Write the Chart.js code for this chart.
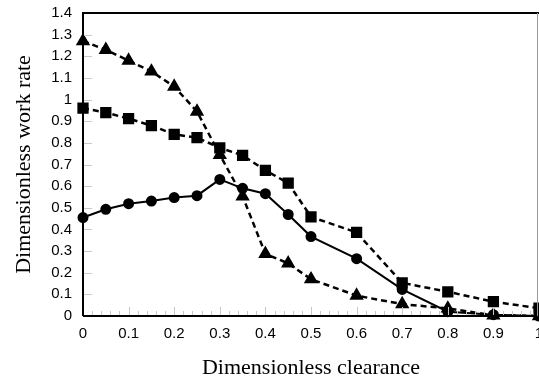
<!DOCTYPE html>
<html>
<head>
<meta charset="utf-8">
<script src="https://cdn.jsdelivr.net/npm/chart.js@4/dist/chart.umd.min.js"></script>
<style>
  html, body { margin: 0; padding: 0; background: #fff; }
  #wrap { width: 539px; height: 381px; position: relative; }
</style>
</head>
<body>
<div id="wrap"><canvas id="workChart"></canvas></div>
<script>
// clearance values (x) shared by all three series
const clearance = [0, 0.05, 0.1, 0.15, 0.2, 0.25, 0.3, 0.35, 0.4, 0.45, 0.5, 0.6, 0.7, 0.8, 0.9, 1];

const triangleSeries = [1.27, 1.23, 1.18, 1.13, 1.06, 0.945, 0.745, 0.553, 0.287, 0.243, 0.17, 0.094, 0.055, 0.035, 0.003, 0.0];
const squareSeries = [0.96, 0.94, 0.912, 0.88, 0.839, 0.824, 0.777, 0.742, 0.673, 0.614, 0.458, 0.386, 0.153, 0.112, 0.066, 0.036];
const circleSeries = [0.455, 0.493, 0.519, 0.531, 0.547, 0.556, 0.631, 0.59, 0.565, 0.469, 0.367, 0.265, 0.123, 0.02, 0.006, 0.0];

const xTickLabels = ['0', '0.1', '0.2', '0.3', '0.4', '0.5', '0.6', '0.7', '0.8', '0.9', '1'];
const yTickLabels = ['0', '0.1', '0.2', '0.3', '0.4', '0.5', '0.6', '0.7', '0.8', '0.9', '1', '1.1', '1.2', '1.3', '1.4'];

const toPoints = (ys) => ys.map((y, i) => ({ x: clearance[i], y }));

// box around the plot plus the faint grey inward ticks
const frame = {
    id: 'frame',
    afterDraw(chart) {
        const { ctx, chartArea: a, scales } = chart;
        ctx.save();
        ctx.strokeStyle = '#c8c8c8';
        ctx.lineWidth = 1;
        for (let v = 0; v <= 1.0001; v += 0.02) {
            const px = Math.round(scales.x.getPixelForValue(v)) + 0.5;
            const major = Math.abs(v * 10 - Math.round(v * 10)) < 0.001;
            ctx.beginPath();
            ctx.moveTo(px, a.bottom);
            ctx.lineTo(px, a.bottom - (major ? 9 : 5));
            ctx.stroke();
        }
        for (let v = 0; v <= 1.4001; v += 0.1) {
            const py = Math.round(scales.y.getPixelForValue(v)) + 0.5;
            ctx.beginPath();
            ctx.moveTo(a.left, py);
            ctx.lineTo(a.left + 9, py);
            ctx.stroke();
        }
        ctx.strokeStyle = '#000';
        ctx.lineWidth = 2;
        ctx.beginPath();
        ctx.moveTo(a.left, a.bottom);
        ctx.lineTo(a.left, a.top);
        ctx.lineTo(a.right, a.top);
        ctx.moveTo(a.left, a.bottom);
        ctx.lineTo(a.right, a.bottom);
        ctx.stroke();
        ctx.strokeStyle = '#999';
        ctx.lineWidth = 1;
        ctx.beginPath();
        ctx.moveTo(a.right - 1.5, a.top);
        ctx.lineTo(a.right - 1.5, a.bottom);
        ctx.stroke();
        ctx.restore();
    }
};

new Chart(document.getElementById('workChart'), {
    type: 'line',
    data: {
        datasets: [
            {
                label: 'triangles',
                data: toPoints(triangleSeries),
                borderColor: '#000',
                backgroundColor: '#000',
                borderWidth: 2.5,
                borderDash: [6, 4],
                pointStyle: 'triangle',
                pointRadius: 5.8,
                tension: 0,
                clip: 8
            },
            {
                label: 'squares',
                data: toPoints(squareSeries),
                borderColor: '#000',
                backgroundColor: '#000',
                borderWidth: 2.5,
                borderDash: [6, 4],
                pointStyle: 'rect',
                pointRadius: 6.2,
                tension: 0,
                clip: 8
            },
            {
                label: 'circles',
                data: toPoints(circleSeries),
                borderColor: '#000',
                backgroundColor: '#000',
                borderWidth: 2,
                pointStyle: 'circle',
                pointRadius: 4.5,
                tension: 0,
                clip: 8
            }
        ]
    },
    options: {
        responsive: true,
        maintainAspectRatio: false,
        animation: false,
        layout: { autoPadding: false, padding: { top: 13, right: 0, left: 0, bottom: 0 } },
        plugins: {
            legend: { display: false },
            tooltip: { enabled: false }
        },
        scales: {
            x: {
                type: 'linear',
                min: 0,
                max: 1,
                afterFit: (s) => { s.height = 65; s.paddingRight = 0; s.paddingLeft = 0; },
                border: { display: false },
                grid: { display: false, drawTicks: false },
                ticks: {
                    stepSize: 0.1,
                    padding: 9,
                    color: '#000',
                    font: { family: 'Liberation Sans, Arial', size: 15 },
                    maxRotation: 0,
                    callback: (v, i) => xTickLabels[i]
                },
                title: {
                    display: true,
                    text: 'Dimensionless clearance',
                    color: '#000',
                    font: { family: 'Liberation Serif, Times New Roman', size: 22 },
                    padding: { top: 0, bottom: 0 }
                }
            },
            y: {
                min: 0,
                max: 1.4,
                afterFit: (s) => { s.width = 83; s.paddingTop = 0; s.paddingBottom = 0; },
                border: { display: false },
                grid: { display: false, drawTicks: false },
                ticks: {
                    stepSize: 0.1,
                    padding: 11,
                    color: '#000',
                    font: { family: 'Liberation Sans, Arial', size: 15 },
                    callback: (v, i) => yTickLabels[i]
                },
                title: {
                    display: true,
                    text: 'Dimensionless work rate',
                    color: '#000',
                    font: { family: 'Liberation Serif, Times New Roman', size: 22 },
                    padding: { top: 11, bottom: 0 }
                }
            }
        }
    },
    plugins: [frame]
});
</script>
</body>
</html>
